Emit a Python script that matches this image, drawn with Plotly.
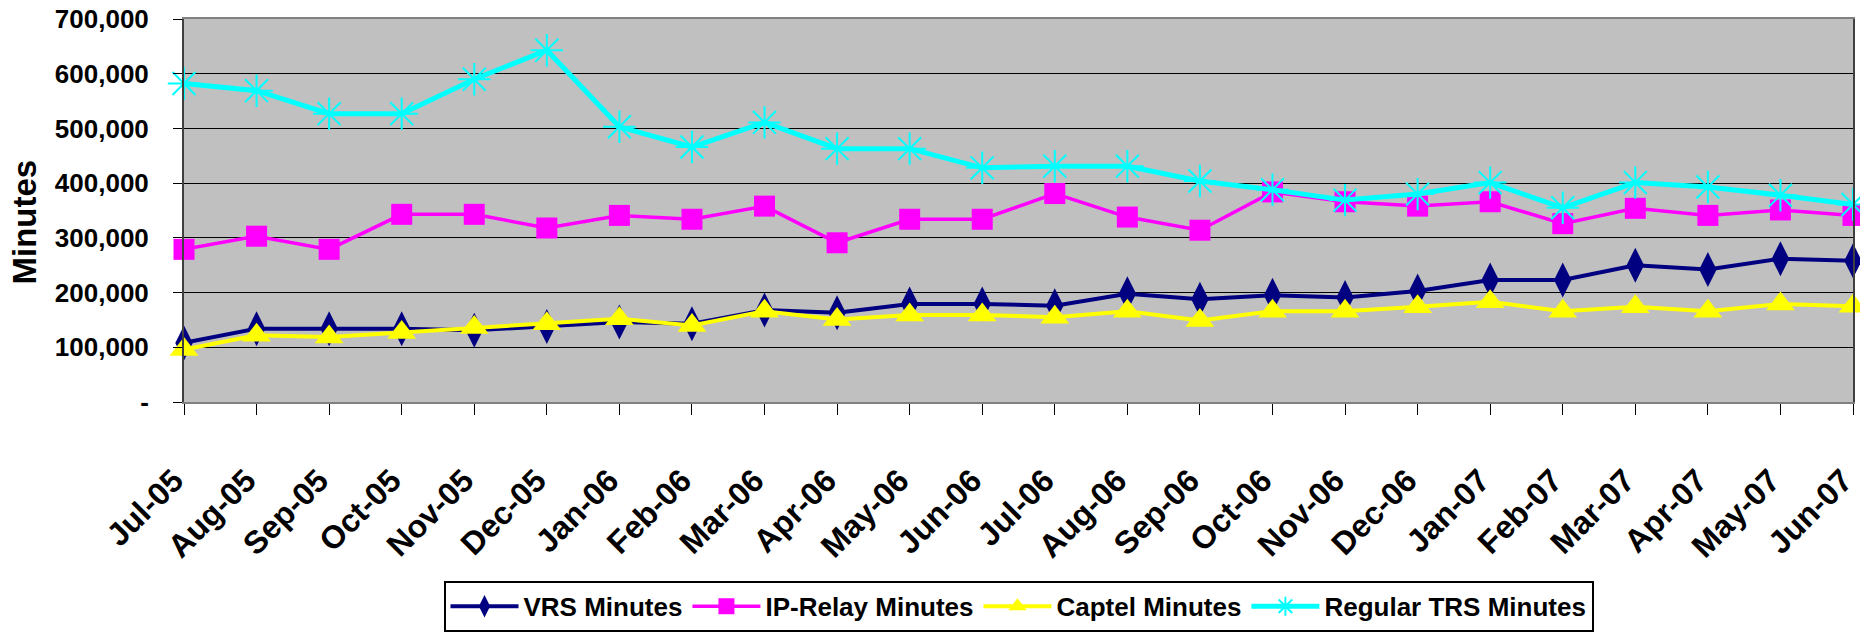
import plotly.graph_objects as go

months = ["Jul-05", "Aug-05", "Sep-05", "Oct-05", "Nov-05", "Dec-05",
          "Jan-06", "Feb-06", "Mar-06", "Apr-06", "May-06", "Jun-06",
          "Jul-06", "Aug-06", "Sep-06", "Oct-06", "Nov-06", "Dec-06",
          "Jan-07", "Feb-07", "Mar-07", "Apr-07", "May-07", "Jun-07"]

vrs_minutes = [108000, 134000, 134000, 134000, 131000, 138000,
               146000, 143000, 168000, 163000, 179000, 179000,
               176000, 198000, 188000, 195000, 191000, 203000,
               223000, 223000, 250000, 242000, 262000, 258000]

ip_relay_minutes = [279000, 303000, 279000, 343000, 343000, 318000,
                    341000, 334000, 358000, 291000, 334000, 334000,
                    381000, 338000, 314000, 384000, 366000, 358000,
                    366000, 326000, 354000, 341000, 351000, 341000]

captel_minutes = [96000, 122000, 119000, 127000, 136000, 143000,
                  152000, 140000, 166000, 151000, 159000, 159000,
                  155000, 166000, 149000, 166000, 166000, 174000,
                  183000, 166000, 174000, 166000, 179000, 175000]

regular_trs_minutes = [582000, 569000, 527000, 527000, 590000, 643000,
                       503000, 466000, 511000, 463000, 463000, 428000,
                       431000, 431000, 404000, 388000, 369000, 380000,
                       401000, 355000, 401000, 393000, 378000, 361000]

y_tick_values = [0, 100000, 200000, 300000, 400000, 500000, 600000, 700000]
y_tick_labels = ["-", "100,000", "200,000", "300,000", "400,000", "500,000", "600,000", "700,000"]

FONT = "Liberation Sans, Arial, sans-serif"

fig = go.Figure()

fig.add_trace(go.Scatter(
    x=months, y=vrs_minutes, name="VRS Minutes", mode="lines+markers",
    line=dict(color="#000080", width=4),
    marker=dict(symbol="diamond-tall", size=25, color="#000080"),
    cliponaxis=False))

fig.add_trace(go.Scatter(
    x=months, y=ip_relay_minutes, name="IP-Relay Minutes", mode="lines+markers",
    line=dict(color="#FF00FF", width=3.5),
    marker=dict(symbol="square", size=21, color="#FF00FF"),
    cliponaxis=False))

fig.add_trace(go.Scatter(
    x=months, y=captel_minutes, name="Captel Minutes", mode="lines+markers",
    line=dict(color="#FFFF00", width=4),
    marker=dict(symbol="triangle-up", size=25, color="#FFFF00"),
    cliponaxis=False))

fig.add_trace(go.Scatter(
    x=months, y=regular_trs_minutes, name="Regular TRS Minutes", mode="lines+markers",
    line=dict(color="#00FFFF", width=5),
    marker=dict(symbol="asterisk-open", size=27, color="#00FFFF",
                line=dict(color="#00FFFF", width=2)),
    cliponaxis=False))

fig.update_layout(
    width=1860, height=634,
    margin=dict(l=184, r=7, t=19, b=232, autoexpand=False),
    paper_bgcolor="white",
    plot_bgcolor="#C0C0C0",
    font=dict(family=FONT, color="black"),
    showlegend=True,
    legend=dict(
        orientation="h", x=0.5, xanchor="center", y=-0.467, yanchor="top",
        bgcolor="white", bordercolor="black", borderwidth=2,
        font=dict(family=FONT, size=26, color="black", weight="bold"),
        itemwidth=68, tracegroupgap=0,
    ),
    xaxis=dict(
        type="category", range=[0, 23],
        showgrid=False, zeroline=False,
        showline=True, linecolor="#808080", linewidth=2, mirror=True,
        ticks="outside", ticklen=11, tickcolor="black", tickwidth=1,
        tickangle=-45, ticklabelstandoff=34, ticklabelshift=-10,
        ticklabeloverflow="allow",
        tickfont=dict(family=FONT, size=32, color="black", weight="bold"),
    ),
    yaxis=dict(
        range=[0, 700000],
        tickvals=y_tick_values, ticktext=y_tick_labels,
        showgrid=True, gridcolor="black", gridwidth=1,
        zeroline=False,
        showline=True, linecolor="#404040", linewidth=2, mirror=True,
        ticks="outside", ticklen=9, tickcolor="black", tickwidth=1,
        tickfont=dict(family=FONT, size=26, color="black", weight="bold"),
        ticklabelstandoff=19, ticklabeloverflow="allow",
    ),
    annotations=[dict(
        text="Minutes", textangle=-90, showarrow=False,
        xref="paper", yref="paper", x=-180 / 1669, y=0.47,
        xanchor="left", yanchor="middle",
        font=dict(family=FONT, size=33, color="black", weight="bold"),
    )],
)

# remove the default 8px page margin so the figure fills the window exactly
fig.write_html("out.html", config={"displayModeBar": False},
               post_script="document.body.style.margin='0';")
